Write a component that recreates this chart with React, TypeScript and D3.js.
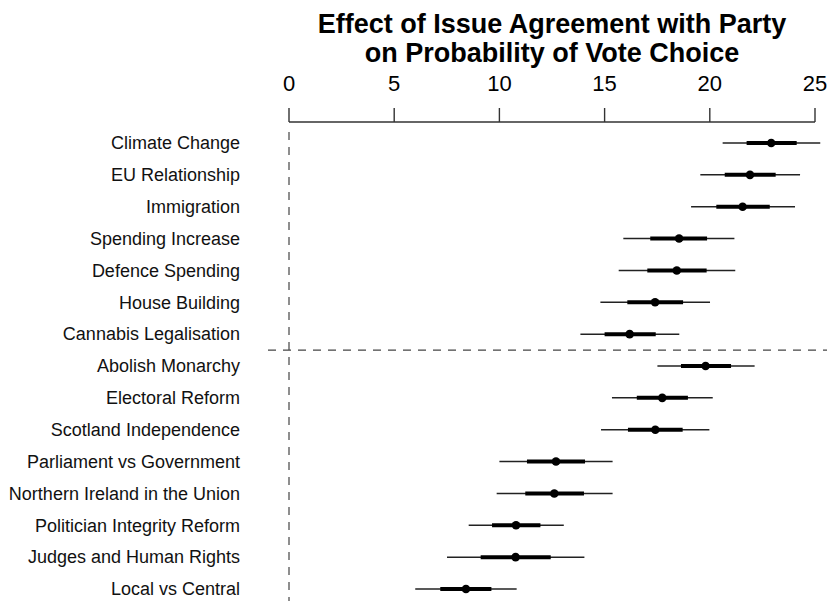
import React from "react";
import * as d3 from "d3";

const categories = [
  "Climate Change",
  "EU Relationship",
  "Immigration",
  "Spending Increase",
  "Defence Spending",
  "House Building",
  "Cannabis Legalisation",
  "Abolish Monarchy",
  "Electoral Reform",
  "Scotland Independence",
  "Parliament vs Government",
  "Northern Ireland in the Union",
  "Politician Integrity Reform",
  "Judges and Human Rights",
  "Local vs Central",
];
const estimates = [22.92, 21.91, 21.56, 18.54, 18.43, 17.4, 16.19, 19.8, 17.74, 17.41, 12.69, 12.61, 10.79, 10.77, 8.41];
const innerLow = [21.75, 20.71, 20.31, 17.17, 17.03, 16.08, 15.0, 18.63, 16.53, 16.11, 11.31, 11.23, 9.65, 9.11, 7.19];
const innerHigh = [24.13, 23.13, 22.85, 19.87, 19.85, 18.73, 17.43, 21.01, 18.96, 18.71, 14.07, 14.02, 11.95, 12.44, 9.62];
const outerLow = [20.61, 19.55, 19.11, 15.89, 15.67, 14.8, 13.85, 17.51, 15.35, 14.83, 10.0, 9.87, 8.54, 7.51, 6.0];
const outerHigh = [25.25, 24.29, 24.05, 21.17, 21.21, 20.01, 18.55, 22.13, 20.14, 19.98, 15.38, 15.38, 13.06, 14.04, 10.82];
const tickValues = [0, 5, 10, 15, 20, 25];
const separatorAfter = 6.5;
const titleLines = ["Effect of Issue Agreement with Party", "on Probability of Vote Choice"];

export default function App() {
  const W = 827;
  const H = 601;
  const x = d3.scaleLinear().domain([0, 25]).range([289, 815]);
  const y = d3.scaleLinear().domain([0, categories.length - 1]).range([143, 589]);
  const axisY = 122;
  const font = "Arial, 'Liberation Sans', Helvetica, sans-serif";

  return (
    <svg
      width={W}
      height={H}
      style={{ position: "absolute", left: 0, top: 0, background: "#fff" }}
      fontFamily={font}
    >
      <rect x={0} y={0} width={W} height={H} fill="#fff" />
      {titleLines.map((t, i) => (
        <text
          key={i}
          x={(x(0) + x(25)) / 2}
          y={33 + i * 29}
          textAnchor="middle"
          fontSize={27}
          fontWeight="bold"
          fill="#000"
        >
          {t}
        </text>
      ))}
      {/* axis */}
      <line x1={x(0)} x2={x(25)} y1={axisY} y2={axisY} stroke="#333" strokeWidth={1.4} />
      {tickValues.map((v) => (
        <g key={v}>
          <line x1={x(v)} x2={x(v)} y1={axisY} y2={axisY - 14} stroke="#333" strokeWidth={1.4} />
          <text x={x(v)} y={91} textAnchor="middle" fontSize={22} fill="#000">
            {v}
          </text>
        </g>
      ))}
      {/* reference lines */}
      <line
        x1={x(0)}
        x2={x(0)}
        y1={132}
        y2={H}
        stroke="#444"
        strokeWidth={1.2}
        strokeDasharray="8,7"
      />
      <line
        x1={268}
        x2={W}
        y1={y(separatorAfter)}
        y2={y(separatorAfter)}
        stroke="#444"
        strokeWidth={1.2}
        strokeDasharray="8,7"
      />
      {categories.map((c, i) => (
        <g key={c}>
          <text
            x={240}
            y={y(i)}
            dy="0.35em"
            textAnchor="end"
            fontSize={18}
            fill="#111"
          >
            {c}
          </text>
          <line
            x1={x(outerLow[i])}
            x2={x(outerHigh[i])}
            y1={y(i)}
            y2={y(i)}
            stroke="#222"
            strokeWidth={1.5}
          />
          <line
            x1={x(innerLow[i])}
            x2={x(innerHigh[i])}
            y1={y(i)}
            y2={y(i)}
            stroke="#000"
            strokeWidth={4}
          />
          <circle cx={x(estimates[i])} cy={y(i)} r={4.3} fill="#000" />
        </g>
      ))}
    </svg>
  );
}
